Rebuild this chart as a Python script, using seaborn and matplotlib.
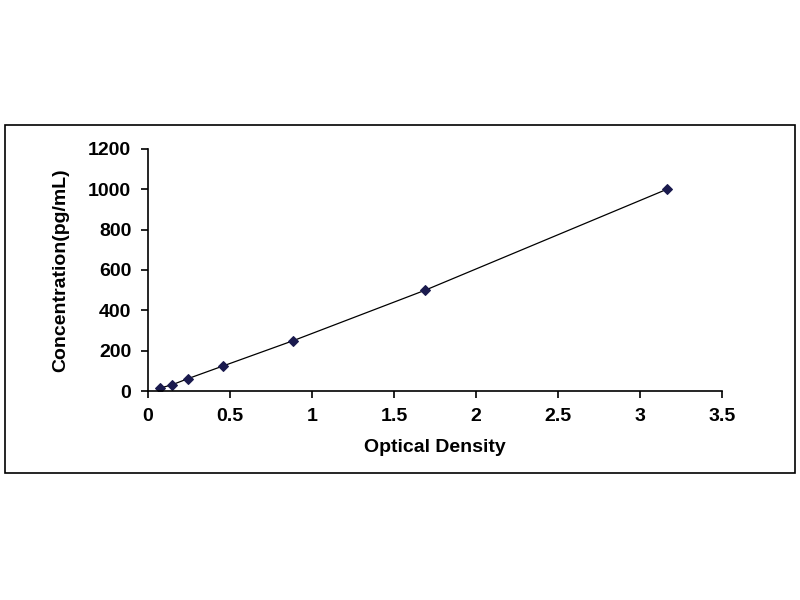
import matplotlib
matplotlib.use('Agg')
import matplotlib.pyplot as plt
import seaborn as sns
import pandas as pd
from matplotlib.patches import Rectangle

# standard curve points
od = [0.073, 0.145, 0.245, 0.458, 0.885, 1.69, 3.165]
conc = [15.6, 31.25, 62.5, 125, 250, 500, 1000]
xticks = [0, 0.5, 1, 1.5, 2, 2.5, 3, 3.5]
yticks = [0, 200, 400, 600, 800, 1000, 1200]

df = pd.DataFrame({'od': od, 'conc': conc})

sns.set_style('white')
plt.rcParams['font.family'] = ['Liberation Sans', 'DejaVu Sans']
plt.rcParams['text.color'] = 'black'
plt.rcParams['axes.labelcolor'] = 'black'

fig = plt.figure(figsize=(8, 6), dpi=100)
fig.patches.append(Rectangle((0.006, 0.212), 0.988, 0.58, transform=fig.transFigure,
                             fill=False, edgecolor='black', linewidth=1.2))
ax = fig.add_axes([0.185, 0.348, 0.7175, 0.404])

sns.lineplot(data=df, x='od', y='conc', ax=ax, color='black', linewidth=0.9,
             marker='D', markersize=5, markerfacecolor='#1a1a4e',
             markeredgecolor='#1a1a4e')

ax.set_xlim(0, 3.5)
ax.set_ylim(0, 1200)
ax.set_xticks(xticks)
ax.set_xticklabels([f'{t:g}' for t in xticks])
ax.set_yticks(yticks)
ax.tick_params(axis='both', direction='out', length=5, width=1.2, labelsize=14,
               pad=7, bottom=True, left=True, colors='black')
for lab in ax.get_xticklabels() + ax.get_yticklabels():
    lab.set_fontweight('bold')
ax.set_xlabel('Optical Density', fontsize=14, fontweight='bold', labelpad=10)
ax.set_ylabel('Concentration(pg/mL)', fontsize=14, fontweight='bold', labelpad=14)
sns.despine(ax=ax)
for s in ['left', 'bottom']:
    ax.spines[s].set_color('black')
    ax.spines[s].set_linewidth(1.2)

fig.savefig('out.png', dpi=100)
